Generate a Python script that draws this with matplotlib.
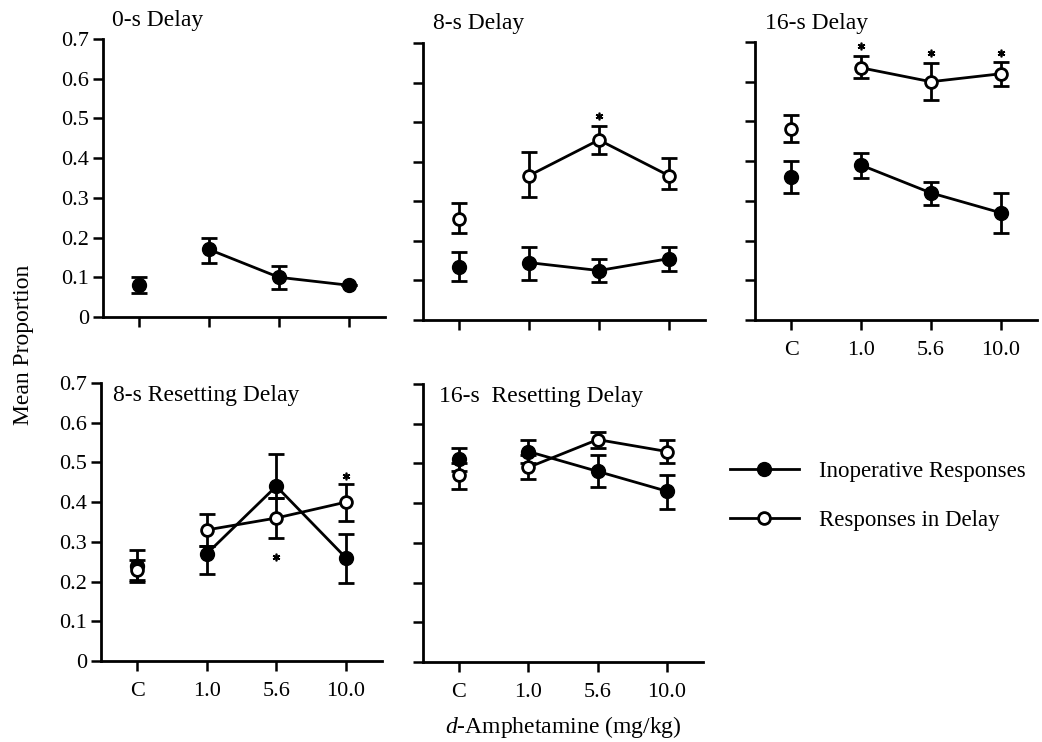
import matplotlib
matplotlib.use("Agg")
import matplotlib.pyplot as plt
from matplotlib.lines import Line2D
import numpy as np

plt.rcParams['font.family'] = ['Liberation Serif', 'DejaVu Serif']
plt.rcParams['mathtext.fontset'] = 'custom'
plt.rcParams['mathtext.rm'] = 'Liberation Serif'
plt.rcParams['mathtext.it'] = 'Liberation Serif:italic'

# ---------------- data ----------------
doses = ['C', '1.0', '5.6', '10.0']
yticks = [0, 0.1, 0.2, 0.3, 0.4, 0.5, 0.6, 0.7]
ytick_labels = ['0', '0.1', '0.2', '0.3', '0.4', '0.5', '0.6', '0.7']

# 0-s Delay
d0_inop = [0.08, 0.17, 0.10, 0.08]
d0_inop_hi = [0.10, 0.20, 0.128, 0.08]
d0_inop_lo = [0.06, 0.136, 0.07, 0.08]

# 8-s Delay
d8_inop = [0.135, 0.145, 0.125, 0.155]
d8_inop_hi = [0.171, 0.185, 0.155, 0.185]
d8_inop_lo = [0.098, 0.10, 0.095, 0.125]
d8_del = [0.255, 0.365, 0.455, 0.365]
d8_del_hi = [0.295, 0.425, 0.49, 0.41]
d8_del_lo = [0.22, 0.31, 0.42, 0.33]
d8_stars_x = [2]
d8_stars_y = [0.516]

# 16-s Delay
d16_inop = [0.36, 0.39, 0.32, 0.27]
d16_inop_hi = [0.40, 0.42, 0.348, 0.32]
d16_inop_lo = [0.32, 0.358, 0.29, 0.22]
d16_del = [0.48, 0.635, 0.60, 0.62]
d16_del_hi = [0.515, 0.665, 0.647, 0.65]
d16_del_lo = [0.447, 0.61, 0.554, 0.59]
d16_stars_x = [1, 2, 3]
d16_stars_y = [0.69, 0.672, 0.672]

# 8-s Resetting Delay
r8_inop = [0.24, 0.27, 0.44, 0.26]
r8_inop_hi = [0.28, 0.29, 0.52, 0.32]
r8_inop_lo = [0.20, 0.22, 0.41, 0.197]
r8_del = [0.23, 0.33, 0.36, 0.40]
r8_del_hi = [0.255, 0.37, 0.41, 0.445]
r8_del_lo = [0.205, 0.29, 0.31, 0.353]
r8_stars_x = [2, 3]
r8_stars_y = [0.262, 0.465]

# 16-s Resetting Delay
r16_inop = [0.51, 0.53, 0.48, 0.43]
r16_inop_hi = [0.54, 0.56, 0.52, 0.47]
r16_inop_lo = [0.48, 0.50, 0.44, 0.385]
r16_del = [0.47, 0.49, 0.56, 0.53]
r16_del_hi = [0.50, 0.52, 0.58, 0.56]
r16_del_lo = [0.435, 0.46, 0.54, 0.50]

titles = ['0-s Delay', '8-s Delay', '16-s Delay', '8-s Resetting Delay', '16-s  Resetting Delay']
legend_labels = ['Inoperative Responses', 'Responses in Delay']
ylabel = 'Mean Proportion'
xlabel = r'$\it{d}$-Amphetamine (mg/kg)'

# ---------------- layout ----------------
W, H = 1042, 742
fig = plt.figure(figsize=(W / 100, H / 100), dpi=100)

def axes_px(left, right, y0, y7):
    return fig.add_axes([left / W, 1 - y0 / H, (right - left) / W, (y0 - y7) / H])

ax1 = axes_px(103, 385, 317, 39)
ax2 = axes_px(423, 705, 320, 43)
ax3 = axes_px(755, 1037, 320, 42)
ax4 = axes_px(101, 382, 661, 383)
ax5 = axes_px(423, 703, 662, 384)

LW = 2.0
x = np.arange(len(doses))

def style(ax, ylab, xlab):
    ax.set_xlim(-0.52, 3.52)
    ax.set_ylim(0, 0.7)
    for s in ['top', 'right']:
        ax.spines[s].set_visible(False)
    for s in ['left', 'bottom']:
        ax.spines[s].set_linewidth(2.0)
    ax.set_yticks(yticks)
    ax.set_xticks(x)
    ax.tick_params(axis='both', direction='out', length=7, width=1.8,
                   labelsize=16, pad=3)
    if ylab:
        ax.set_yticklabels(ytick_labels)
    else:
        ax.set_yticklabels([])
    if xlab:
        ax.set_xticklabels(doses)
        ax.tick_params(axis='x', pad=8)
    else:
        ax.set_xticklabels([])

def series(ax, vals, hi, lo, filled, connect_from=1):
    vals = np.array(vals)
    yerr = np.array([vals - np.array(lo), np.array(hi) - vals])
    ax.errorbar(x, vals, yerr=yerr, fmt='none', ecolor='black',
                elinewidth=LW, capsize=5.5, capthick=LW, zorder=2)
    ax.plot(x[connect_from:], vals[connect_from:], color='black', lw=LW, zorder=3)
    if filled:
        ax.plot(x, vals, 'o', color='black', ms=10, zorder=4)
    else:
        ax.plot(x, vals, 'o', mfc='white', mec='black', mew=2.0, ms=8.5, zorder=5)

def stars(ax, sx, sy):
    ax.plot(sx, sy, linestyle='none', marker=(6, 2, 0), ms=5.5, mew=1.2,
            color='black', zorder=6)

style(ax1, True, False)
series(ax1, d0_inop, d0_inop_hi, d0_inop_lo, True)

style(ax2, False, False)
series(ax2, d8_inop, d8_inop_hi, d8_inop_lo, True)
series(ax2, d8_del, d8_del_hi, d8_del_lo, False)
stars(ax2, d8_stars_x, d8_stars_y)

style(ax3, False, True)
series(ax3, d16_inop, d16_inop_hi, d16_inop_lo, True)
series(ax3, d16_del, d16_del_hi, d16_del_lo, False)
stars(ax3, d16_stars_x, d16_stars_y)

style(ax4, True, True)
series(ax4, r8_inop, r8_inop_hi, r8_inop_lo, True)
series(ax4, r8_del, r8_del_hi, r8_del_lo, False)
stars(ax4, r8_stars_x, r8_stars_y)

style(ax5, False, True)
series(ax5, r16_inop, r16_inop_hi, r16_inop_lo, True)
series(ax5, r16_del, r16_del_hi, r16_del_lo, False)

TFS = 17
ax1.text(0.032, 1.068, titles[0], transform=ax1.transAxes, fontsize=TFS, va='center', ha='left')
ax2.text(0.035, 1.072, titles[1], transform=ax2.transAxes, fontsize=TFS, va='center', ha='left')
ax3.text(0.035, 1.068, titles[2], transform=ax3.transAxes, fontsize=TFS, va='center', ha='left')
ax4.text(0.043, 0.955, titles[3], transform=ax4.transAxes, fontsize=TFS, va='center', ha='left')
ax5.text(0.057, 0.955, titles[4], transform=ax5.transAxes, fontsize=TFS, va='center', ha='left')

fig.text(24 / W, 1 - 345 / H, ylabel, rotation=90, fontsize=17, va='center', ha='center')
fig.text(563 / W, 1 - 727 / H, xlabel, fontsize=17, va='center', ha='center')

h1 = Line2D([], [], color='black', lw=LW, marker='o', ms=10, mfc='black', mec='black')
h2 = Line2D([], [], color='black', lw=LW, marker='o', ms=8.5, mfc='white', mec='black', mew=2.0)
fig.legend([h1, h2], legend_labels, loc='center left',
           bbox_to_anchor=(730 / W, 1 - 496 / H), frameon=False,
           fontsize=16.5, handlelength=3.0, handletextpad=0.9,
           labelspacing=1.25, borderpad=0, borderaxespad=0)

fig.savefig('out.png', dpi=100)
